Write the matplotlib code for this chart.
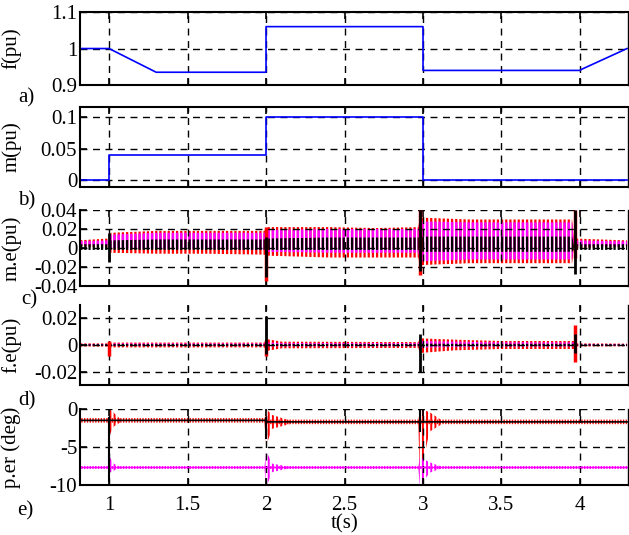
import matplotlib
matplotlib.use("Agg")
import matplotlib.pyplot as plt

plt.rcParams['font.family'] = ['Liberation Serif', 'DejaVu Serif']
plt.rcParams['font.size'] = 15

# a) frequency reference
f_t = [0.8, 1.0, 1.3, 2.0, 2.0, 3.0, 3.0, 4.0, 4.01, 4.3]
f_v = [1.0, 1.0, 0.935, 0.935, 1.06, 1.06, 0.94, 0.94, 0.943, 1.0]

# b) modulation index reference
m_t = [0.8, 1.0, 1.0, 2.0, 2.0, 3.0, 3.0, 4.3]
m_v = [0.0, 0.0, 0.04, 0.04, 0.1, 0.1, 0.0, 0.0]

# c) modulation index error envelopes
me_t = [0.80, 1.00, 1.01, 1.30, 1.60, 1.99, 2.00, 2.40, 2.70, 2.97, 2.98, 3.30, 3.60, 3.95, 3.96, 4.30]
me_red_hi = [0.008, 0.010, 0.016, 0.018, 0.018, 0.018, 0.022, 0.022, 0.021, 0.022, 0.032, 0.030, 0.030, 0.030, 0.010, 0.008]
me_red_lo = [0.002, 0.000, -0.005, -0.006, -0.006, -0.007, -0.008, -0.010, -0.010, -0.010, -0.018, -0.016, -0.016, -0.016, 0.000, 0.001]
me_mag_hi = [0.007, 0.008, 0.014, 0.016, 0.016, 0.016, 0.019, 0.020, 0.020, 0.020, 0.028, 0.027, 0.027, 0.027, 0.008, 0.007]
me_mag_lo = [0.003, 0.003, 0.000, -0.001, -0.001, -0.002, -0.004, -0.005, -0.005, -0.005, -0.014, -0.012, -0.012, -0.012, 0.002, 0.002]
me_blk_hi = [0.004, 0.004, 0.008, 0.009, 0.009, 0.009, 0.010, 0.011, 0.011, 0.011, 0.012, 0.012, 0.012, 0.012, 0.004, 0.004]
me_blk_lo = [-0.002, -0.002, -0.002, -0.002, -0.002, -0.002, -0.002, -0.002, -0.002, -0.002, -0.004, -0.004, -0.004, -0.004, -0.002, -0.002]
me_red_spk_t = [2.0, 2.98, 3.97]
me_red_spk_lo = [-0.035, -0.028, -0.010]
me_red_spk_hi = [0.022, 0.040, 0.040]
me_blk_spk_t = [1.0, 2.0, 2.98, 3.97]
me_blk_spk_lo = [-0.015, -0.031, -0.024, -0.027]
me_blk_spk_hi = [0.016, 0.012, 0.040, 0.040]

# d) frequency error envelopes
fe_t = [0.80, 1.00, 1.01, 1.99, 2.00, 2.10, 2.97, 2.98, 3.20, 3.50, 3.96, 3.97, 4.30]
fe_red_hi = [0.0012, 0.0012, 0.0018, 0.0018, 0.0045, 0.0025, 0.0022, 0.0050, 0.0040, 0.0030, 0.0030, 0.0012, 0.0010]
fe_red_lo = [-0.0012, -0.0012, -0.0018, -0.0018, -0.0045, -0.0025, -0.0022, -0.0060, -0.0040, -0.0030, -0.0030, -0.0012, -0.0010]
fe_mag_hi = [0.0008, 0.0008, 0.0012, 0.0012, 0.0020, 0.0015, 0.0015, 0.0030, 0.0025, 0.0020, 0.0020, 0.0008, 0.0008]
fe_mag_lo = [-0.0006, -0.0006, -0.0008, -0.0008, -0.0012, -0.0010, -0.0010, -0.0020, -0.0015, -0.0012, -0.0012, -0.0006, -0.0006]
fe_blk_hi = [0.0006, 0.0006, 0.0007, 0.0007, 0.0008, 0.0008, 0.0008, 0.0010, 0.0009, 0.0009, 0.0009, 0.0006, 0.0006]
fe_blk_lo = [-0.0006, -0.0006, -0.0007, -0.0007, -0.0008, -0.0008, -0.0008, -0.0010, -0.0009, -0.0009, -0.0009, -0.0006, -0.0006]
fe_red_spk_t = [1.0, 2.0, 3.97]
fe_red_spk_lo = [-0.008, -0.008, -0.0125]
fe_red_spk_hi = [0.003, 0.004, 0.015]
fe_blk_spk_t = [2.0, 2.98, 3.97]
fe_blk_spk_lo = [-0.007, -0.020, -0.006]
fe_blk_spk_hi = [0.022, 0.008, 0.008]

# e) phase error: noisy levels and post-step ringing envelopes
pe_t = [0.8, 2.0, 2.01, 4.3]
pe_blk = [-1.5, -1.5, -1.7, -1.7]
pe_blk_hi = [-1.2, -1.2, -1.4, -1.4]
pe_blk_lo = [-1.8, -1.8, -2.0, -2.0]
pe_mag = [-7.7, -7.7, -7.7, -7.7]
pe_mag_hi = [-7.45, -7.45, -7.45, -7.45]
pe_mag_lo = [-7.9, -7.9, -7.9, -7.9]
pe_ring_t = [[0.99, 1.00, 1.03, 1.07], [1.99, 2.00, 2.04, 2.15], [2.97, 2.98, 3.04, 3.12]]
pe_ring_red_hi = [[-1.5, 0.0, -0.5, -1.3], [-1.5, 0.0, -0.8, -1.5], [-1.7, 0.0, -0.4, -1.5]]
pe_ring_red_lo = [[-1.5, -3.6, -2.3, -1.8], [-1.7, -4.8, -2.6, -2.0], [-1.7, -9.3, -3.0, -2.0]]
pe_ring_mag_hi = [[-7.7, -6.2, -7.2, -7.6], [-7.7, -5.5, -7.2, -7.6], [-7.7, -6.3, -7.0, -7.6]]
pe_ring_mag_lo = [[-7.7, -8.4, -8.1, -7.8], [-7.7, -10.3, -8.3, -7.8], [-7.7, -10.3, -8.4, -7.8]]
pe_blk_spk_t = [1.0, 2.0, 2.98]
pe_blk_spk_lo = [-9.6, -4.0, -3.0]
pe_blk_spk_hi = [-1.0, -1.0, 0.0]

xticks = [1, 1.5, 2, 2.5, 3, 3.5, 4]
xtick_labels = ['1', '1.5', '2', '2.5', '3', '3.5', '4']


def band(ax, t, lo, hi, color, lw, hatch='||||'):
    plt.rcParams['hatch.linewidth'] = lw
    ax.fill_between(t, lo, hi, facecolor='none', edgecolor=color,
                    linewidth=0, hatch=hatch)


def style(ax, ylim, yticks, ylabel, top_spine=True):
    ax.set_xlim(0.815, 4.305)
    ax.set_ylim(*ylim)
    ax.set_xticks(xticks)
    ax.set_xticklabels([])
    ax.set_yticks(yticks)
    ax.set_yticklabels(['%g' % v for v in yticks])
    ax.grid(True, color='black', linestyle=(0, (5, 4)), linewidth=1.0)
    ax.tick_params(direction='in', top=True, right=False, length=5,
                   width=1.2, pad=2)
    for s in ax.spines.values():
        s.set_linewidth(1.5)
    ax.spines['top'].set_visible(top_spine)
    ax.spines['right'].set_linewidth(1.0)
    ax.set_ylabel(ylabel)
    ax.yaxis.set_label_coords(-0.107, 0.5)


fig = plt.figure(figsize=(6.29, 5.35), dpi=100)
L, W = 0.1272, 0.871
ax1 = fig.add_axes([L, 0.8411, W, 0.1364])
ax2 = fig.add_axes([L, 0.6505, W, 0.1495])
ax3 = fig.add_axes([L, 0.4654, W, 0.1421])
ax4 = fig.add_axes([L, 0.2804, W, 0.1495])
ax5 = fig.add_axes([L, 0.0935, W, 0.1421])

ax1.plot(f_t, f_v, color='#0000ff', linewidth=1.2)
style(ax1, (0.9, 1.1), [0.9, 1.0, 1.1], 'f(pu)')

ax2.plot(m_t, m_v, color='#0000ff', linewidth=1.2)
style(ax2, (-0.011, 0.116), [0, 0.05, 0.1], 'm(pu)')

band(ax3, me_t, me_red_lo, me_red_hi, '#ff0000', 1.6)
band(ax3, me_t, me_mag_lo, me_mag_hi, '#ff00ff', 1.8)
band(ax3, me_t, me_blk_lo, me_blk_hi, 'black', 1.6)
ax3.vlines(me_red_spk_t, me_red_spk_lo, me_red_spk_hi, color='#ff0000', linewidth=2.5)
ax3.vlines(me_blk_spk_t, me_blk_spk_lo, me_blk_spk_hi, color='black', linewidth=2.0)
style(ax3, (-0.04, 0.04), [-0.04, -0.02, 0, 0.02, 0.04], 'm.e(pu)', top_spine=False)

band(ax4, fe_t, fe_red_lo, fe_red_hi, '#ff0000', 1.6)
band(ax4, fe_t, fe_mag_lo, fe_mag_hi, '#ff00ff', 1.6)
band(ax4, fe_t, fe_blk_lo, fe_blk_hi, 'black', 1.6)
ax4.vlines(fe_red_spk_t, fe_red_spk_lo, fe_red_spk_hi, color='#ff0000', linewidth=2.5)
ax4.vlines(fe_blk_spk_t, fe_blk_spk_lo, fe_blk_spk_hi, color='black', linewidth=2.0)
style(ax4, (-0.03, 0.03), [-0.02, 0, 0.02], 'f.e(pu)', top_spine=False)

band(ax5, pe_t, pe_mag_lo, pe_mag_hi, '#ff00ff', 1.0, hatch='||||||')
ax5.plot(pe_t, pe_mag, color='#ff00ff', linewidth=1.0)
band(ax5, pe_t, pe_blk_lo, pe_blk_hi, '#ff0000', 1.0, hatch='||||||')
ax5.plot(pe_t, pe_blk, color='black', linewidth=1.2)
for t, lo, hi in zip(pe_ring_t, pe_ring_red_lo, pe_ring_red_hi):
    band(ax5, t, lo, hi, '#ff0000', 1.4)
for t, lo, hi in zip(pe_ring_t, pe_ring_mag_lo, pe_ring_mag_hi):
    band(ax5, t, lo, hi, '#ff00ff', 1.4)
ax5.vlines(pe_blk_spk_t, pe_blk_spk_lo, pe_blk_spk_hi, color='black', linewidth=1.5)
style(ax5, (-10, 0), [-10, -5, 0], 'p.er (deg)', top_spine=False)
ax5.set_xticklabels(xtick_labels)
ax5.tick_params(axis='x', pad=8)

fig.text(0.0413, 0.8168, 'a)', ha='center', va='center')
fig.text(0.0429, 0.6243, 'b)', ha='center', va='center')
fig.text(0.0460, 0.4400, 'c)', ha='center', va='center')
fig.text(0.0429, 0.2505, 'd)', ha='center', va='center')
fig.text(0.0397, 0.0449, 'e)', ha='center', va='center')
fig.text(0.5485, 0.0200, 't(s)', ha='center', va='center')

fig.savefig('out.png', dpi=100)
